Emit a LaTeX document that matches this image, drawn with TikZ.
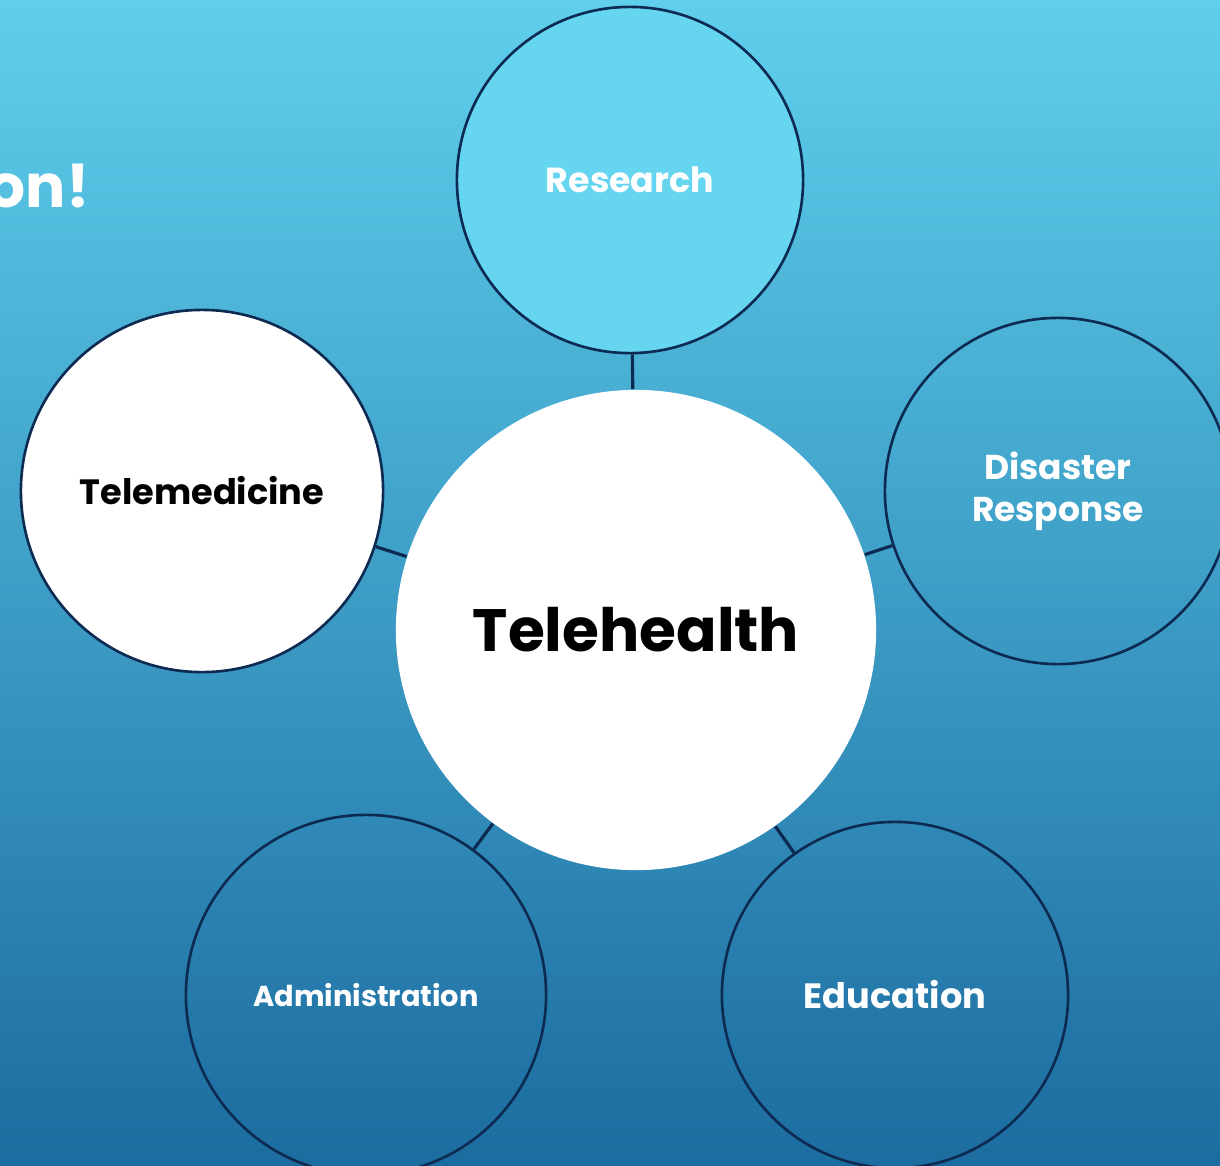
\documentclass[tikz,border=0pt]{standalone}
\usepackage{fontspec}
\setmainfont{Poppins}
\definecolor{bgtop}{HTML}{5FCFEC}
\definecolor{bgbot}{HTML}{1C6CA0}
\definecolor{ringline}{HTML}{0D2B52}
\definecolor{researchfill}{HTML}{66D5F0}
\begin{document}
\begin{tikzpicture}[x=0.01cm,y=-0.01cm,
  bubble/.style={circle,draw=ringline,line width=0.75pt,inner sep=0pt,minimum size=3.46cm,align=center,font=\bfseries\fontsize{9.9}{12}\selectfont,text=white},
  hub/.style={circle,fill=white,inner sep=0pt,minimum size=4.8cm,font=\bfseries\fontsize{17}{20}\selectfont},
  spoke/.style={draw=ringline,line width=0.9pt}]
\useasboundingbox (0,0) rectangle (1220,1166);
\shade[top color=bgtop,bottom color=bgbot] (0,0) rectangle (1220,1166);
\node[anchor=east,text=white,font=\bfseries\fontsize{17}{20}\selectfont] (title) at (102,186) {on!};
% centre and the five bubbles round it
\node[hub] (tele) at (636,630) {Telehealth};
\node[bubble,fill=researchfill] (research) at (630,180) {Research};
\node[bubble,fill=white,text=black,minimum size=3.62cm,font=\bfseries\fontsize{10}{12}\selectfont] (telemed) at (202,491) {Telemedicine};
\node[bubble,font=\bfseries\fontsize{9.8}{12}\selectfont] (disaster) at (1058,491) {Disaster\\Response};
\node[bubble,minimum size=3.6cm,font=\bfseries\fontsize{8.2}{10}\selectfont] (admin) at (366,995) {Administration};
\node[bubble,font=\bfseries\fontsize{10}{12}\selectfont] (edu) at (895,995) {Education};
% short links
\draw[spoke] (research) -- (tele);
\draw[spoke] (telemed) -- (tele);
\draw[spoke] (disaster) -- (tele);
\draw[spoke] (admin) -- (tele);
\draw[spoke] (edu) -- (tele);
\end{tikzpicture}
\end{document}
